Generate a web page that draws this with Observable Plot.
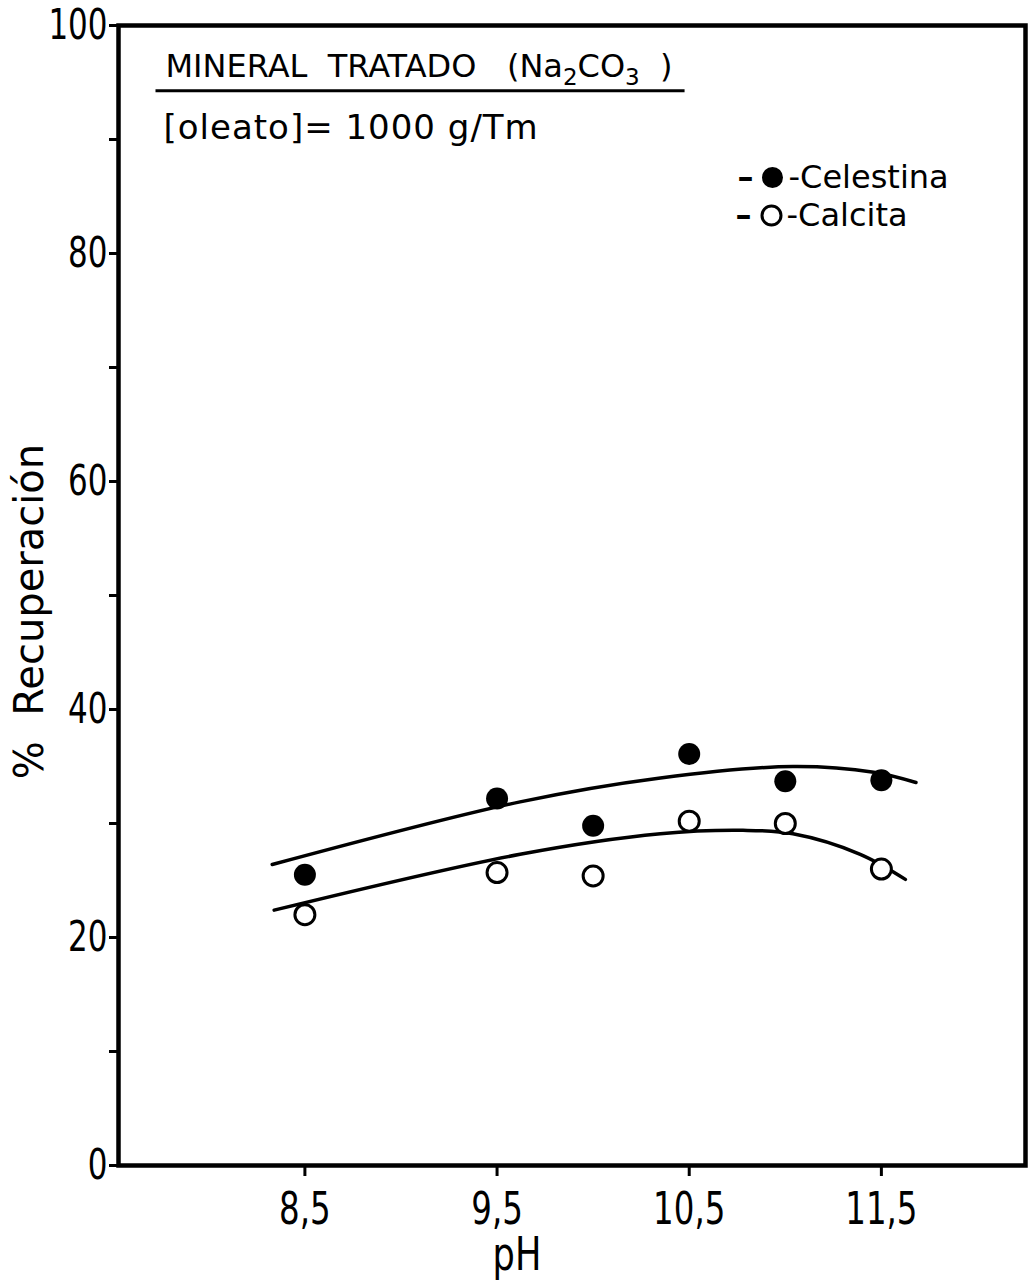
<!DOCTYPE html>
<html><head><meta charset="utf-8">
<script src="https://cdn.jsdelivr.net/npm/d3@7"></script>
<script src="https://cdn.jsdelivr.net/npm/@observablehq/plot@0.6"></script>
<style>body{margin:0;background:#fff} #chart svg{display:block}</style>
</head><body><div id="chart"></div>
<script>
// measured points
const pH = [8.5, 9.5, 10.0, 10.5, 11.0, 11.5];
const celestina = [25.5, 32.2, 29.8, 36.1, 33.7, 33.8];
const calcita = [22.0, 25.7, 25.4, 30.2, 30.0, 26.0];
// hand-drawn trend curves
const celestinaCurvePH = [8.33, 9.62, 10.35, 11.04, 11.46, 11.68];
const celestinaCurveY = [26.4, 31.9, 34.0, 35.0, 34.5, 33.6];
const calcitaCurvePH = [8.34, 9.62, 10.35, 10.78, 11.04, 11.39, 11.625];
const calcitaCurveY = [22.4, 27.3, 29.1, 29.4, 29.1, 27.3, 25.1];
// axes
const xTicks = [8.5, 9.5, 10.5, 11.5];
const yTicks = [0, 10, 20, 30, 40, 50, 60, 70, 80, 90, 100];
const yLabelTicks = [0, 20, 40, 60, 80, 100];
const xLabel = "pH";
const yLabel = "%\u00a0\u00a0Recuperación";
const title = "MINERAL\u00a0\u00a0TRATADO\u00a0\u00a0\u00a0(Na₂CO₃\u00a0\u00a0)";
const subtitle = "[oleato]=\u00a01000\u00a0g/Tm";
const seriesNames = ["Celestina", "Calcita"];

const pts = (xs, ys) => xs.map((x, i) => ({x, y: ys[i]}));
const celPts = pts(pH, celestina), calPts = pts(pH, calcita);
const celCurve = pts(celestinaCurvePH, celestinaCurveY);
const calCurve = pts(calcitaCurvePH, calcitaCurveY);

const tickFont = "'DejaVu Sans Condensed', sans-serif";
const textFont = "'DejaVu Sans', sans-serif";

const chart = Plot.plot({
  width: 1031, height: 1280,
  marginLeft: 118, marginRight: 6, marginTop: 25, marginBottom: 115,
  style: {fontFamily: textFont, background: "white", color: "black"},
  x: {domain: [7.53, 12.25]},
  y: {domain: [0, 100]},
  marks: [
    Plot.frame({stroke: "black", strokeWidth: 4.5}),
    Plot.axisY(yTicks, {tickSize: 9, tickPadding: 2, strokeWidth: 3,
      tickFormat: d => yLabelTicks.includes(d) ? String(d) : "",
      fontSize: 42, fontFamily: tickFont, label: null}),
    Plot.axisX(xTicks, {tickSize: 11, tickPadding: 16, strokeWidth: 3,
      tickFormat: d => String(d).replace(".", ","),
      fontSize: 44, fontFamily: tickFont, label: null}),
    Plot.text([xLabel], {text: d => d, frameAnchor: "bottom", dx: -55, dy: 90,
      fontSize: 46, fontFamily: tickFont, lineAnchor: "middle", textAnchor: "middle"}),
    Plot.text([yLabel], {text: d => d, frameAnchor: "left", dx: -88, dy: 16, rotate: -90,
      fontSize: 40, fontFamily: textFont, lineAnchor: "middle", textAnchor: "middle"}),
    Plot.line(celCurve, {x: "x", y: "y", curve: "catmull-rom", strokeWidth: 3.5, stroke: "black"}),
    Plot.line(calCurve, {x: "x", y: "y", curve: "catmull-rom", strokeWidth: 3.5, stroke: "black"}),
    Plot.dot(celPts, {x: "x", y: "y", r: 11, fill: "black", stroke: "none"}),
    Plot.dot(calPts, {x: "x", y: "y", r: 10, fill: "white", stroke: "black", strokeWidth: 3}),
    // annotations
    Plot.text([title], {text: d => d, frameAnchor: "top-left", dx: 47, dy: 41, textAnchor: "start",
      lineAnchor: "middle", fontSize: 32, fontFamily: textFont}),
    Plot.text([subtitle], {text: d => d, frameAnchor: "top-left", dx: 45, dy: 103, textAnchor: "start",
      lineAnchor: "middle", fontSize: 34, fontFamily: textFont}),
    // legend
    Plot.text(["–"], {text: d => d, frameAnchor: "top-left", dx: 619, dy: 152, textAnchor: "start", lineAnchor: "middle", fontSize: 32, fontWeight: "bold", fontFamily: textFont}),
    Plot.text(["–"], {text: d => d, frameAnchor: "top-left", dx: 617, dy: 190, textAnchor: "start", lineAnchor: "middle", fontSize: 32, fontWeight: "bold", fontFamily: textFont}),
    Plot.dot([seriesNames[0]], {frameAnchor: "top-left", dx: 654, dy: 152, r: 10.5, fill: "black", stroke: "none"}),
    Plot.dot([seriesNames[1]], {frameAnchor: "top-left", dx: 653, dy: 190, r: 9.5, fill: "white", stroke: "black", strokeWidth: 3}),
    Plot.text([seriesNames[0]], {text: d => "-" + d, frameAnchor: "top-left", dx: 670, dy: 152, textAnchor: "start", lineAnchor: "middle", fontSize: 32, fontFamily: textFont}),
    Plot.text([seriesNames[1]], {text: d => "-" + d, frameAnchor: "top-left", dx: 668, dy: 190, textAnchor: "start", lineAnchor: "middle", fontSize: 32, fontFamily: textFont})
  ]
});
document.getElementById("chart").appendChild(chart);

const svg = d3.select(chart);
// narrow, tall tick lettering
svg.selectAll("g[aria-label='y-axis tick label'] text, g[aria-label='x-axis tick label'] text")
  .attr("transform", function(){ return (this.getAttribute("transform") || "") + " scale(0.82,1)"; });
svg.selectAll("text").filter(function(){ return this.textContent === xLabel; })
  .attr("transform", function(){ return (this.getAttribute("transform") || "") + " scale(0.85,1)"; });
// subtitle spacing
svg.selectAll("text").filter(function(){ return this.textContent === subtitle; })
  .style("letter-spacing", "1px");
// title: real subscripts, then underline
const subMap = {"₂": "2", "₃": "3"};
svg.selectAll("text").filter(function(){ return this.textContent === title; }).each(function(){
  const el = d3.select(this);
  const parts = title.split(/([₂₃])/).filter(s => s.length);
  el.text(null);
  let shifted = false;
  parts.forEach(p => {
    const isSub = p in subMap;
    const ts = el.append("tspan").text(isSub ? subMap[p] : p);
    if (isSub) { ts.attr("font-size", 23).attr("dy", shifted ? 0 : 8); shifted = true; }
    else if (shifted) { ts.attr("dy", -8); shifted = false; }
  });
  const svgRect = chart.getBoundingClientRect();
  const r = this.getBoundingClientRect();
  svg.append("line")
    .attr("x1", r.left - svgRect.left - 10).attr("x2", r.right - svgRect.left + 12)
    .attr("y1", r.bottom - svgRect.top + 1).attr("y2", r.bottom - svgRect.top + 1)
    .attr("stroke", "black").attr("stroke-width", 3);
});
</script>
</body></html>
